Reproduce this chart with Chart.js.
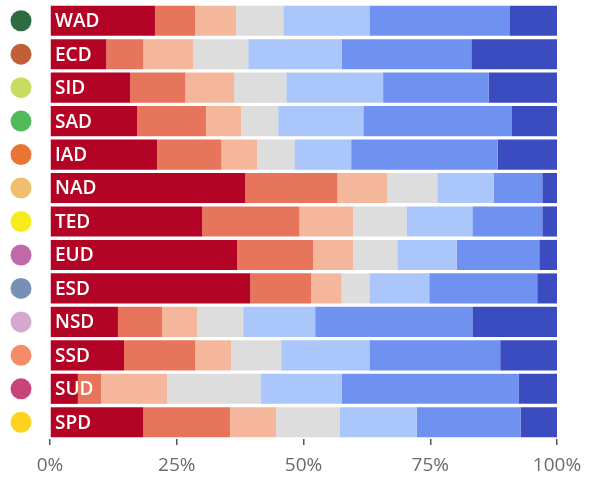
<!DOCTYPE html>
<html>
<head>
<meta charset="utf-8">
<script src="https://cdn.jsdelivr.net/npm/chart.js"></script>
<style>
    body { margin: 0; background: #fff; }
</style>
</head>
<body>
<canvas id="chart" width="596" height="477"></canvas>
<script>
const categories = ['WAD', 'ECD', 'SID', 'SAD', 'IAD', 'NAD', 'TED', 'EUD', 'ESD', 'NSD', 'SSD', 'SUD', 'SPD'];
const dotColors = ['#2d6b40', '#c05f38', '#c9dc60', '#52ba58', '#ea7434', '#efbf6e', '#f7eb1e', '#c068a8', '#7890b6', '#d6a8d0', '#f48c6a', '#c8447a', '#ffd21e'];

const series1 = [20.7, 11.1, 15.8, 17.2, 21.1, 38.5, 30.0, 36.9, 39.5, 13.4, 14.6, 5.5, 18.4];
const series2 = [7.9, 7.3, 10.9, 13.6, 12.7, 18.2, 19.2, 15.0, 12.0, 8.7, 14.0, 4.6, 17.1];
const series3 = [8.1, 9.8, 9.6, 6.9, 7.1, 9.8, 10.6, 7.9, 6.0, 6.9, 7.1, 13.0, 9.1];
const series4 = [9.3, 10.9, 10.3, 7.3, 7.3, 9.9, 10.5, 8.7, 5.5, 9.1, 9.9, 18.4, 12.5];
const series5 = [17.0, 18.4, 19.1, 16.8, 11.2, 11.1, 13.0, 11.7, 11.8, 14.2, 17.4, 16.0, 15.2];
const series6 = [27.6, 25.6, 20.8, 29.2, 28.9, 9.6, 13.8, 16.3, 21.3, 31.0, 25.8, 34.9, 20.5];
const series7 = [9.4, 16.9, 13.5, 9.0, 11.7, 2.9, 2.9, 3.5, 3.9, 16.7, 11.2, 7.6, 7.2];

const xTicks = [0, 25, 50, 75, 100];

const seriesColors = ['#b40426', '#e7755c', '#f5b79b', '#dddddd', '#aac6fb', '#6f92f1', '#3b4cc0'];
const allSeries = [series1, series2, series3, series4, series5, series6, series7];

// circles + row names drawn on top of the bars
const rowDecor = {
    id: 'rowDecor',
    afterDatasetsDraw(chart) {
        const ctx = chart.ctx;
        const x = chart.scales.x;
        const y = chart.scales.y;
        ctx.save();
        categories.forEach((name, i) => {
            const cy = y.getPixelForValue(i);
            ctx.beginPath();
            ctx.arc(21, cy, 10.5, 0, Math.PI * 2);
            ctx.fillStyle = dotColors[i];
            ctx.fill();

            ctx.fillStyle = '#ffffff';
            ctx.font = '600 19px "Open Sans"';
            ctx.textBaseline = 'middle';
            ctx.textAlign = 'left';
            ctx.fillText(name, x.getPixelForValue(0) + 5, cy + 1);
        });
        ctx.restore();
    }
};

new Chart(document.getElementById('chart'), {
    type: 'bar',
    data: {
        labels: categories,
        datasets: allSeries.map((values, i) => ({
            data: values,
            backgroundColor: seriesColors[i],
            borderWidth: 0,
            barPercentage: 0.9,
            categoryPercentage: 1.0,
        })),
    },
    options: {
        indexAxis: 'y',
        responsive: false,
        animation: false,
        layout: { padding: { left: 50, right: 39, top: 4, bottom: 0 } },
        plugins: {
            legend: { display: false },
            tooltip: { enabled: false },
        },
        scales: {
            x: {
                stacked: true,
                min: 0,
                max: 100,
                afterBuildTicks: axis => {
                    axis.ticks = xTicks.map(v => ({ value: v }));
                },
                afterFit: axis => {
                    axis.height = 38;
                },
                grid: {
                    drawOnChartArea: false,
                    drawTicks: true,
                    tickLength: 6,
                    color: '#555555',
                    lineWidth: 1.5,
                },
                border: { display: false },
                ticks: {
                    color: '#6b6b6b',
                    font: { family: 'Open Sans', size: 19 },
                    padding: 9,
                    maxRotation: 0,
                    callback: v => v + '%',
                },
            },
            y: {
                stacked: true,
                display: false,
            },
        },
    },
    plugins: [rowDecor],
});
</script>
</body>
</html>
